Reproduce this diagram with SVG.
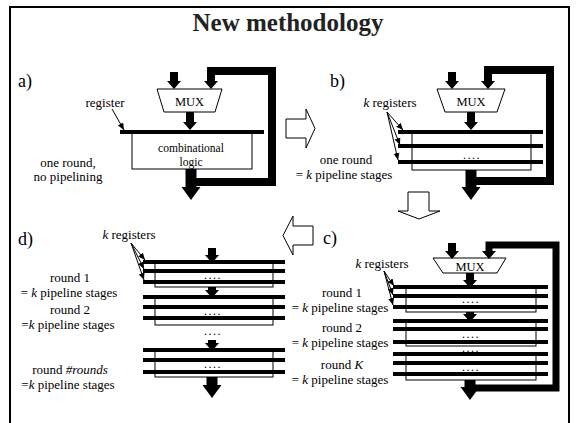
<svg xmlns="http://www.w3.org/2000/svg" width="578" height="423" viewBox="0 0 578 423" font-family="'Liberation Serif', 'Times New Roman', serif">
  <defs>
    <style>
      text { font-family: "Liberation Serif", "Times New Roman", serif; fill: #000; }
      .lbl { font-size: 13px; text-anchor: middle; }
      .part { font-size: 18px; }
      .title { font-size: 25px; font-weight: bold; text-anchor: middle; fill: #222; }
      .mux { fill: #fff; stroke: #000; stroke-width: 1; }
      .box { fill: #fff; stroke: #000; stroke-width: 1; }
      .reg { stroke: #000; stroke-width: 4; fill: none; }
      .bus { stroke: #000; stroke-width: 8; fill: none; }
      .loop { stroke: #000; stroke-width: 8; fill: none; stroke-linejoin: miter; }
      .out { stroke: #000; stroke-width: 11; fill: none; }
      .thin { stroke: #000; stroke-width: 1; fill: none; }
      .hollow { fill: #fff; stroke: #000; stroke-width: 1; }
      .dots { font-size: 12px; text-anchor: middle; letter-spacing: 1.5px; }
    </style>
    <marker id="ah" markerUnits="userSpaceOnUse" markerWidth="20" markerHeight="20" viewBox="0 -10 20 20" refX="0" refY="0" orient="auto">
      <path d="M0,-7 L8,0 L0,7 z" fill="#000"/>
    </marker>
    <marker id="ahL" markerUnits="userSpaceOnUse" markerWidth="20" markerHeight="24" viewBox="0 -12 20 24" refX="0" refY="0" orient="auto">
      <path d="M0,-9.5 L13,0 L0,9.5 z" fill="#000"/>
    </marker>
    <marker id="ahT" markerUnits="userSpaceOnUse" markerWidth="12" markerHeight="12" viewBox="0 -6 12 12" refX="7" refY="0" orient="auto">
      <path d="M0,-3 L7,0 L0,3 z" fill="#000"/>
    </marker>
  </defs>

  <!-- slide frame and heading -->
  <rect x="10" y="7" width="559" height="422" fill="#fff" stroke="#000" stroke-width="2"/>
  <text class="title" x="288" y="31">New methodology</text>

  <!-- a) one round, no pipelining -->
  <g id="part-a">
    <text class="part" x="18" y="87">a)</text>
    <polygon class="mux" points="157,89 222,89 215,112 164,112"/>
    <text class="lbl" x="189.5" y="106" style="font-size:12.5px">MUX</text>
    <rect class="box" x="132" y="133" width="120" height="36"/>
    <line class="reg" x1="120" y1="132" x2="264" y2="132"/>
    <text class="lbl" x="191" y="152" style="font-size:11.5px">combinational</text>
    <text class="lbl" x="191" y="166" style="font-size:11.5px">logic</text>
    <text class="lbl" x="105" y="107">register</text>
    <text class="lbl" x="68" y="167">one round,</text>
    <text class="lbl" x="68" y="181">no pipelining</text>
  </g>

  <!-- b) one round = k pipeline stages -->
  <g id="part-b">
    <text class="part" x="330" y="87">b)</text>
    <polygon class="mux" points="437,89 505,89 497,112 445,112"/>
    <text class="lbl" x="471" y="106" style="font-size:12.5px">MUX</text>
    <rect class="box" x="412" y="132" width="119" height="38"/>
    <line class="reg" x1="398" y1="132" x2="543" y2="132"/>
    <line class="reg" x1="398" y1="146" x2="543" y2="146"/>
    <line class="reg" x1="398" y1="162" x2="543" y2="162"/>
    <text class="dots" x="472" y="159">....</text>
    <text class="lbl" x="390" y="107"><tspan font-style="italic">k</tspan> registers</text>
    <text class="lbl" x="346" y="164">one round</text>
    <text class="lbl" x="344" y="179">= <tspan font-style="italic">k</tspan> pipeline stages</text>
  </g>

  <!-- c) all rounds unrolled, fed back through the MUX -->
  <g id="part-c">
    <text class="part" x="323" y="244">c)</text>
    <polygon class="mux" points="433,258 506,258 497,273 443,273"/>
    <text class="lbl" x="470" y="271" style="font-size:12.5px">MUX</text>
    <rect class="box" x="406" y="287" width="130" height="25"/>
    <line class="reg" x1="393" y1="287" x2="548" y2="287"/>
    <line class="reg" x1="393" y1="296" x2="548" y2="296"/>
    <line class="reg" x1="393" y1="307" x2="548" y2="307"/>
    <text class="dots" x="471" y="303">....</text>
    <rect class="box" x="406" y="321" width="130" height="25"/>
    <line class="reg" x1="393" y1="321" x2="548" y2="321"/>
    <line class="reg" x1="393" y1="329" x2="548" y2="329"/>
    <line class="reg" x1="393" y1="342" x2="548" y2="342"/>
    <text class="dots" x="471" y="338">....</text>
    <text class="dots" x="471" y="352">....</text>
    <rect class="box" x="406" y="354" width="130" height="26"/>
    <line class="reg" x1="393" y1="354" x2="548" y2="354"/>
    <line class="reg" x1="393" y1="363" x2="548" y2="363"/>
    <line class="reg" x1="393" y1="374" x2="548" y2="374"/>
    <text class="dots" x="471" y="371">....</text>
    <text class="lbl" x="382" y="268"><tspan font-style="italic">k</tspan> registers</text>
    <text class="lbl" x="342" y="297">round 1</text>
    <text class="lbl" x="340" y="312">= <tspan font-style="italic">k</tspan> pipeline stages</text>
    <text class="lbl" x="342" y="332">round 2</text>
    <text class="lbl" x="340" y="347">= <tspan font-style="italic">k</tspan> pipeline stages</text>
    <text class="lbl" x="342" y="369">round <tspan font-style="italic">K</tspan></text>
    <text class="lbl" x="340" y="384">= <tspan font-style="italic">k</tspan> pipeline stages</text>
  </g>

  <!-- d) full unrolling, no feedback -->
  <g id="part-d">
    <text class="part" x="18" y="245">d)</text>
    <rect class="box" x="155" y="262" width="118" height="25"/>
    <line class="reg" x1="143" y1="262" x2="285" y2="262"/>
    <line class="reg" x1="143" y1="271" x2="285" y2="271"/>
    <line class="reg" x1="143" y1="282" x2="285" y2="282"/>
    <text class="dots" x="213" y="279">....</text>
    <rect class="box" x="155" y="297" width="118" height="28"/>
    <line class="reg" x1="143" y1="297" x2="285" y2="297"/>
    <line class="reg" x1="143" y1="307" x2="285" y2="307"/>
    <line class="reg" x1="143" y1="318" x2="285" y2="318"/>
    <text class="dots" x="213" y="315">....</text>
    <text class="dots" x="213" y="335">....</text>
    <rect class="box" x="155" y="350" width="118" height="27"/>
    <line class="reg" x1="143" y1="350" x2="285" y2="350"/>
    <line class="reg" x1="143" y1="360" x2="285" y2="360"/>
    <line class="reg" x1="143" y1="372" x2="285" y2="372"/>
    <text class="dots" x="213" y="368">....</text>
    <text class="lbl" x="129" y="239"><tspan font-style="italic">k</tspan> registers</text>
    <text class="lbl" x="70" y="282">round 1</text>
    <text class="lbl" x="69" y="297">= <tspan font-style="italic">k</tspan> pipeline stages</text>
    <text class="lbl" x="70" y="314">round 2</text>
    <text class="lbl" x="68" y="329">=<tspan font-style="italic">k</tspan> pipeline stages</text>
    <text class="lbl" x="70" y="374">round <tspan font-style="italic">#rounds</tspan></text>
    <text class="lbl" x="68" y="389">=<tspan font-style="italic">k</tspan> pipeline stages</text>
  </g>

  <!-- transitions between the four variants -->
  <g id="steps">
    <path class="hollow" d="M286,119 H306 V109 L315,128.5 L306,148 V138 H286 Z"/>
    <path class="hollow" d="M408,192 H429 V211 H440 L419,219 L398,211 H408 Z"/>
    <path class="hollow" d="M313,226 V245 H293 V255 L283,235.5 L293,216 V226 Z"/>
  </g>

  <!-- data paths, feedback loops and register pointers -->
  <g id="connectors">
    <!-- a -->
    <line class="bus" x1="174" y1="72" x2="174" y2="81" marker-end="url(#ah)"/>
    <line class="bus" x1="190" y1="112" x2="190" y2="122" marker-end="url(#ah)"/>
    <path class="loop" d="M187,182 H272 V71 H211 V81" marker-end="url(#ah)"/>
    <line class="out" x1="191" y1="169" x2="191" y2="187" marker-end="url(#ahL)"/>
    <line class="thin" x1="112" y1="109" x2="124" y2="130" marker-end="url(#ahT)"/>
    <!-- b -->
    <line class="bus" x1="452" y1="72" x2="452" y2="81" marker-end="url(#ah)"/>
    <line class="bus" x1="471" y1="112" x2="471" y2="122" marker-end="url(#ah)"/>
    <path class="loop" d="M467,181 H550 V70 H488 V81" marker-end="url(#ah)"/>
    <line class="out" x1="471" y1="170" x2="471" y2="187" marker-end="url(#ahL)"/>
    <line class="thin" x1="387" y1="112" x2="403" y2="130" marker-end="url(#ahT)"/>
    <line class="thin" x1="387" y1="112" x2="400" y2="145" marker-end="url(#ahT)"/>
    <line class="thin" x1="387" y1="112" x2="398" y2="160" marker-end="url(#ahT)"/>
    <!-- c -->
    <line class="bus" x1="452" y1="243" x2="452" y2="251" marker-end="url(#ah)"/>
    <line class="bus" x1="470" y1="273" x2="470" y2="280" marker-end="url(#ah)"/>
    <line class="bus" x1="470" y1="312" x2="470" y2="314" marker-end="url(#ah)"/>
    <path class="loop" style="stroke-width:7" d="M466,388 H556 V245 H489 V251" marker-end="url(#ah)"/>
    <line class="out" x1="470" y1="380" x2="470" y2="387" marker-end="url(#ahL)"/>
    <line class="thin" x1="384" y1="271" x2="394" y2="286" marker-end="url(#ahT)"/>
    <line class="thin" x1="384" y1="271" x2="393" y2="295" marker-end="url(#ahT)"/>
    <line class="thin" x1="384" y1="271" x2="393" y2="305" marker-end="url(#ahT)"/>
    <!-- d -->
    <line class="bus" x1="212" y1="248" x2="212" y2="255" marker-end="url(#ah)"/>
    <line class="bus" x1="212" y1="287" x2="212" y2="290" marker-end="url(#ah)"/>
    <line class="bus" x1="212" y1="340" x2="212" y2="343" marker-end="url(#ah)"/>
    <line class="out" x1="212" y1="377" x2="212" y2="385" marker-end="url(#ahL)"/>
    <line class="thin" x1="131" y1="243" x2="145" y2="260" marker-end="url(#ahT)"/>
    <line class="thin" x1="131" y1="243" x2="144" y2="269" marker-end="url(#ahT)"/>
    <line class="thin" x1="131" y1="243" x2="144" y2="280" marker-end="url(#ahT)"/>
  </g>
</svg>
